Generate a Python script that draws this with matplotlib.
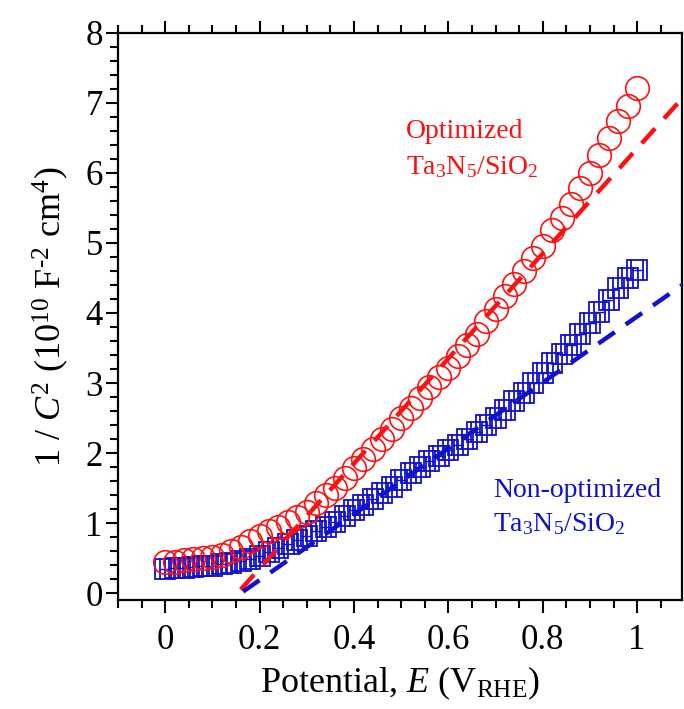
import matplotlib
matplotlib.use("Agg")
import matplotlib.pyplot as plt
from matplotlib.ticker import MultipleLocator

plt.rcParams['font.family'] = ['Liberation Serif', 'DejaVu Serif']
plt.rcParams['mathtext.fontset'] = 'custom'
plt.rcParams['mathtext.rm'] = 'Liberation Serif'
plt.rcParams['mathtext.it'] = 'Liberation Serif:italic'

potential = [0.00, 0.02, 0.04, 0.06, 0.08, 0.10, 0.12, 0.14, 0.16, 0.18,
             0.20, 0.22, 0.24, 0.26, 0.28, 0.30, 0.32, 0.34, 0.36, 0.38,
             0.40, 0.42, 0.44, 0.46, 0.48, 0.50, 0.52, 0.54, 0.56, 0.58,
             0.60, 0.62, 0.64, 0.66, 0.68, 0.70, 0.72, 0.74, 0.76, 0.78,
             0.80, 0.82, 0.84, 0.86, 0.88, 0.90, 0.92, 0.94, 0.96, 0.98, 1.00]

optimized = [0.44, 0.45, 0.47, 0.48, 0.50, 0.52, 0.55, 0.60, 0.66, 0.74,
             0.82, 0.88, 0.94, 1.02, 1.08, 1.16, 1.28, 1.40, 1.50, 1.64,
             1.78, 1.92, 2.06, 2.20, 2.34, 2.50, 2.64, 2.78, 2.94, 3.08,
             3.22, 3.38, 3.54, 3.70, 3.88, 4.05, 4.24, 4.42, 4.60, 4.78,
             4.96, 5.18, 5.36, 5.56, 5.78, 6.00, 6.26, 6.50, 6.74, 6.96, 7.22]

non_optimized = [0.35, 0.36, 0.36, 0.37, 0.38, 0.39, 0.41, 0.43, 0.46, 0.49,
                 0.53, 0.58, 0.64, 0.70, 0.76, 0.82, 0.88, 0.95, 1.02, 1.10,
                 1.18, 1.26, 1.34, 1.43, 1.52, 1.62, 1.71, 1.80, 1.88, 1.96,
                 2.04, 2.12, 2.20, 2.30, 2.40, 2.50, 2.62, 2.74, 2.86, 3.00,
                 3.14, 3.28, 3.42, 3.55, 3.70, 3.86, 4.02, 4.18, 4.36, 4.50, 4.62]

# Mott-Schottky linear fits: (x_start, y_start), (x_end, y_end)
fit_opt_x = [0.16, 1.10]
fit_opt_y = [0.05, 7.10]
fit_non_x = [0.165, 1.10]
fit_non_y = [0.02, 4.42]

fig = plt.figure(figsize=(6.84, 7.09), dpi=100)
ax = fig.add_axes([0.1725, 0.1537, 0.8245, 0.7998])

ax.errorbar(potential, non_optimized, xerr=0.012, fmt='s', ms=15, mfc='none',
            mec='#1010d0', mew=1.3, ecolor='#1010d0', elinewidth=1.0,
            capsize=8, capthick=1.0, zorder=3)
ax.plot(potential, optimized, 'o', ms=17, mfc='none', mec='#ff1010', mew=1.2, zorder=4)

ax.plot(fit_opt_x, fit_opt_y, '--', color='#ff1010', lw=3.2, dashes=(4.5, 3), zorder=5)
ax.plot(fit_non_x, fit_non_y, '--', color='#1010d0', lw=3.2, dashes=(4.5, 3), zorder=5)

ax.set_xlim(-0.1, 1.095)
ax.set_ylim(-0.1, 8)
ax.xaxis.set_major_locator(MultipleLocator(0.2))
ax.xaxis.set_minor_locator(MultipleLocator(0.05))
ax.yaxis.set_major_locator(MultipleLocator(1))
ax.yaxis.set_minor_locator(MultipleLocator(0.2))
ax.set_xticks([0, 0.2, 0.4, 0.6, 0.8, 1.0])
ax.set_xticklabels(['0', '0.2', '0.4', '0.6', '0.8', '1'])

ax.tick_params(which='both', direction='out', top=True, right=False, width=1.5,
               labelsize=25)
ax.tick_params(which='major', length=9)
ax.tick_params(which='minor', length=6)
ax.tick_params(axis='x', pad=8)
ax.tick_params(axis='y', pad=2)
for s in ax.spines.values():
    s.set_linewidth(1.6)

ax.set_xlabel(r'Potential, $E$ (V$_{\mathrm{RHE}}$)', fontsize=26, labelpad=6)
ax.set_ylabel(r'1 / $C^2$ (10$^{10}$ F$^{\text{-}2}$ cm$^4$)', fontsize=26, labelpad=10)

ax.text(0.51, 6.5, 'Optimized', color='#ff1010', fontsize=20, ha='left', va='baseline')
ax.text(0.51, 5.98, r'Ta$_3$N$_5$/SiO$_2$', color='#ff1010', fontsize=20, ha='left', va='baseline')
ax.text(0.695, 1.37, 'Non-optimized', color='#1010d0', fontsize=20, ha='left', va='baseline')
ax.text(0.695, 0.88, r'Ta$_3$N$_5$/SiO$_2$', color='#1010d0', fontsize=20, ha='left', va='baseline')

fig.savefig('out.png', dpi=100)
